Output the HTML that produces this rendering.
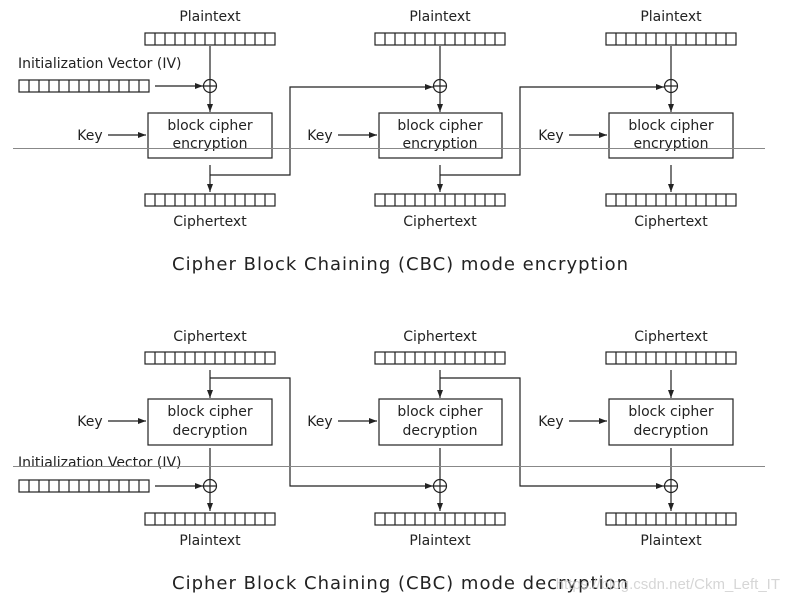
<!DOCTYPE html>
<html><head><style>body{margin:0;background:#fff}svg{display:block}text{font-family:"DejaVu Sans","Liberation Sans",sans-serif;fill:#222}</style></head>
<body>
<svg width="788" height="601" viewBox="0 0 788 601" xmlns="http://www.w3.org/2000/svg">
<defs>
<g id="bar" fill="none" stroke="#222" stroke-width="1.2">
<rect x="0" y="0" width="130" height="12"/>
<path d="M10 0V12M20 0V12M30 0V12M40 0V12M50 0V12M60 0V12M70 0V12M80 0V12M90 0V12M100 0V12M110 0V12M120 0V12"/>
</g>
<marker id="ah" markerWidth="8" markerHeight="6" refX="8" refY="3" orient="auto" markerUnits="userSpaceOnUse"><path d="M0 0L8 3L0 6z" fill="#222"/></marker>
<g id="xor" fill="none" stroke="#222" stroke-width="1.2"><circle cx="0" cy="0" r="6.5"/><path d="M-6.5 0H6.5M0 -6.5V6.5"/></g>
</defs>
<g font-size="14" text-anchor="middle">
<text x="210" y="21">Plaintext</text><text x="440" y="21">Plaintext</text><text x="671" y="21">Plaintext</text>
<use href="#bar" x="145" y="33"/><use href="#bar" x="375" y="33"/><use href="#bar" x="606" y="33"/>
<text x="18" y="68" text-anchor="start">Initialization Vector (IV)</text>
<use href="#bar" x="19" y="80"/>
<use href="#xor" x="210" y="86"/><use href="#xor" x="440" y="86"/><use href="#xor" x="671" y="86"/>
<g stroke="#222" stroke-width="1.2" fill="none">
<path d="M210 46V79M440 46V79M671 46V79"/>
<path d="M155 86H203" marker-end="url(#ah)"/>
<path d="M210 92.5V112" marker-end="url(#ah)"/><path d="M440 92.5V112" marker-end="url(#ah)"/><path d="M671 92.5V112" marker-end="url(#ah)"/>
<rect x="148" y="113" width="124" height="45" fill="#fff"/><rect x="379" y="113" width="123" height="45" fill="#fff"/><rect x="609" y="113" width="124" height="45" fill="#fff"/>
<path d="M108 135H146" marker-end="url(#ah)"/><path d="M338 135H377" marker-end="url(#ah)"/><path d="M569 135H607" marker-end="url(#ah)"/>
<path d="M210 165V192" marker-end="url(#ah)"/><path d="M440 165V192" marker-end="url(#ah)"/><path d="M671 165V192" marker-end="url(#ah)"/>
<path d="M210 175H290V87H433" marker-end="url(#ah)"/>
<path d="M440 175H520V87H664" marker-end="url(#ah)"/>
</g>
<text x="210" y="130">block cipher</text><text x="210" y="148">encryption</text>
<text x="440" y="130">block cipher</text><text x="440" y="148">encryption</text>
<text x="671" y="130">block cipher</text><text x="671" y="148">encryption</text>
<text x="90" y="140">Key</text><text x="320" y="140">Key</text><text x="551" y="140">Key</text>
<use href="#bar" x="145" y="194"/><use href="#bar" x="375" y="194"/><use href="#bar" x="606" y="194"/>
<text x="210" y="226">Ciphertext</text><text x="440" y="226">Ciphertext</text><text x="671" y="226">Ciphertext</text>
<text x="400" y="270" font-size="18" textLength="456">Cipher Block Chaining (CBC) mode encryption</text>
<text x="210" y="341">Ciphertext</text><text x="440" y="341">Ciphertext</text><text x="671" y="341">Ciphertext</text>
<use href="#bar" x="145" y="352"/><use href="#bar" x="375" y="352"/><use href="#bar" x="606" y="352"/>
<g stroke="#222" stroke-width="1.2" fill="none">
<path d="M210 370V398" marker-end="url(#ah)"/><path d="M440 370V398" marker-end="url(#ah)"/><path d="M671 370V398" marker-end="url(#ah)"/>
<rect x="148" y="399" width="124" height="46" fill="#fff"/><rect x="379" y="399" width="123" height="46" fill="#fff"/><rect x="609" y="399" width="124" height="46" fill="#fff"/>
<path d="M108 421H146" marker-end="url(#ah)"/><path d="M338 421H377" marker-end="url(#ah)"/><path d="M569 421H607" marker-end="url(#ah)"/>
<path d="M210 448V479.5M440 448V479.5M671 448V479.5"/>
<path d="M155 486H203" marker-end="url(#ah)"/>
<path d="M210 378H290V486H433" marker-end="url(#ah)"/>
<path d="M440 378H520V486H664" marker-end="url(#ah)"/>
<path d="M210 492.5V511" marker-end="url(#ah)"/><path d="M440 492.5V511" marker-end="url(#ah)"/><path d="M671 492.5V511" marker-end="url(#ah)"/>
</g>
<use href="#xor" x="210" y="486"/><use href="#xor" x="440" y="486"/><use href="#xor" x="671" y="486"/>
<text x="210" y="416">block cipher</text><text x="210" y="435">decryption</text>
<text x="440" y="416">block cipher</text><text x="440" y="435">decryption</text>
<text x="671" y="416">block cipher</text><text x="671" y="435">decryption</text>
<text x="90" y="426">Key</text><text x="320" y="426">Key</text><text x="551" y="426">Key</text>
<text x="18" y="467" text-anchor="start">Initialization Vector (IV)</text>
<use href="#bar" x="19" y="480"/>
<use href="#bar" x="145" y="513"/><use href="#bar" x="375" y="513"/><use href="#bar" x="606" y="513"/>
<text x="210" y="545">Plaintext</text><text x="440" y="545">Plaintext</text><text x="671" y="545">Plaintext</text>
<text x="400" y="589" font-size="18" textLength="456">Cipher Block Chaining (CBC) mode decryption</text>
</g>
<text x="780" y="589" font-size="15" text-anchor="end" style="font-family:'Liberation Sans',sans-serif;fill:#ccc" opacity="0.8">https://blog.csdn.net/Ckm_Left_IT</text>
<path d="M13 148.5H765M13 466.5H765" stroke="#888" stroke-width="1"/>
</svg>
</body></html>
